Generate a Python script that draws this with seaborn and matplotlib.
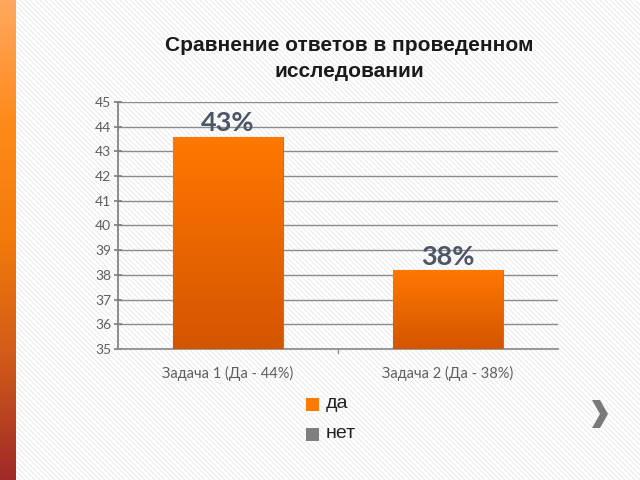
import numpy as np
import pandas as pd
import matplotlib
matplotlib.use("Agg")
import matplotlib.pyplot as plt
import seaborn as sns
from matplotlib.patches import Polygon, Rectangle
from matplotlib.colors import LinearSegmentedColormap

categories = ["Задача 1 (Да - 44%)", "Задача 2 (Да - 38%)"]
values = [43.6, 38.2]
bar_labels = ["43%", "38%"]
legend_labels = ["да", "нет"]
title = "Сравнение ответов в проведенном\nисследовании"

sns.set_theme(style="white")
plt.rcParams['font.family'] = ['Lato', 'DejaVu Sans']

fig = plt.figure(figsize=(6.4, 4.8), dpi=100)
fig.patch.set_facecolor("white")

# faint diagonal background hatch
bg = fig.add_axes([0, 0, 1, 1], zorder=-5)
bg.set_xlim(0, 640); bg.set_ylim(0, 480); bg.axis("off")
for c in np.arange(-480, 640, 5):
    bg.plot([c, c + 480], [480, 0], color="#e9e9e9", lw=0.7)

# left gradient strip
strip = fig.add_axes([0, 0, 16/640, 1], zorder=-4)
strip_cmap = LinearSegmentedColormap.from_list("s", ["#ffa860", "#ff8a1a", "#f27a0a", "#d05a1a", "#a02a28"])
strip.imshow(np.linspace(0, 1, 256).reshape(-1, 1), aspect="auto", cmap=strip_cmap)
strip.axis("off")

ax = fig.add_axes([118/640, 1 - 349/480, 440/640, 247/480])
ax.set_facecolor("none")
df = pd.DataFrame({"cat": categories, "val": values})
sns.barplot(data=df, x="cat", y="val", color="#ff7a00", width=0.5, ax=ax, saturation=1, zorder=3)
ax.set_ylim(35, 45)
ax.set_yticks(range(35, 46))
ax.set_xlim(-0.5, 1.5)

# gradient fill on bars
bar_cmap = LinearSegmentedColormap.from_list("b", ["#d45500", "#ff7800"])
for p in ax.patches:
    x0 = p.get_x()
    w, h = p.get_width(), p.get_height()
    im = ax.imshow(np.linspace(0, 1, 100).reshape(-1, 1), aspect="auto", cmap=bar_cmap,
                   extent=[x0, x0 + w, 35, p.get_y() + h], origin="lower", zorder=4)
    im.set_clip_path(p)
    p.set_edgecolor("#e06a10"); p.set_linewidth(0.8)
ax.set_xlim(-0.5, 1.5)
ax.set_ylim(35, 45)

ax.yaxis.grid(True, color="#8c8c8c", lw=1.0, zorder=0)
ax.set_axisbelow(True)
for s in ["top", "right"]:
    ax.spines[s].set_visible(False)
ax.spines["left"].set_color("#7f7f7f")
ax.spines["bottom"].set_color("#8c8c8c")
ax.set_xlabel(""); ax.set_ylabel("")
ax.tick_params(axis="y", left=True, direction="inout", length=6, color="#7f7f7f",
               labelsize=10, labelcolor="#5f5f5f", pad=2)
ax.set_xticks([0, 1])
ax.set_xticklabels(categories, fontsize=10.5, color="#5f5f5f")
ax.tick_params(axis="x", bottom=False, pad=6)
ax.plot([0.5, 0.5], [35, 34.85], color="#8c8c8c", lw=1, clip_on=False, zorder=5)

for i, (v, lab) in enumerate(zip(values, bar_labels)):
    ax.text(i, v + 0.05, lab, ha="center", va="bottom", fontsize=19.5, fontweight="bold",
            color="#4d5566", zorder=6)

fig.text(349/640, 1 - 58.5/480, title, ha="center", va="center", fontsize=15,
         fontweight="bold", color="#1a1a1a", linespacing=1.45, family=["Liberation Sans"])

# legend
legend_colors = ["#ff7a00", "#7f7f7f"]
for k, (lab, col) in enumerate(zip(legend_labels, legend_colors)):
    yc = 404 + 30 * k
    fig.patches.append(Rectangle((306/640, 1 - (yc + 6.5)/480), 13/640, 13/480,
                                 transform=fig.transFigure, facecolor=col, edgecolor="none"))
    fig.text(326/640, 1 - yc/480, lab, ha="left", va="center", fontsize=14, color="#222222",
             family=["Liberation Sans"])

# chevron
pts = [(592, 400), (600, 400), (608, 414), (600, 428), (592, 428), (600, 414)]
fig.patches.append(Polygon([(x/640, 1 - y/480) for x, y in pts], closed=True,
                           transform=fig.transFigure, facecolor="#7a7a7a", edgecolor="none"))

fig.savefig("out.png", dpi=100)
